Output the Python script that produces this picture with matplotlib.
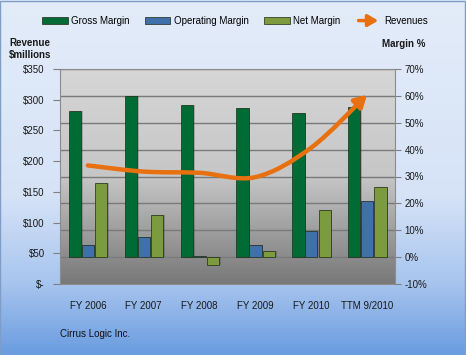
"""
Cirrus Logic margins (bars, right axis %) with revenue trend (smoothed arrow, left axis $M)
"""
import numpy as np
import matplotlib
matplotlib.use("Agg")
import matplotlib.pyplot as plt
from matplotlib.colors import LinearSegmentedColormap
from matplotlib.patches import Patch, FancyArrowPatch, Rectangle
from matplotlib.path import Path
from matplotlib.lines import Line2D
from matplotlib.legend_handler import HandlerBase

# data
periods = ["FY 2006", "FY 2007", "FY 2008", "FY 2009", "FY 2010", "TTM 9/2010"]
gross_margin = [54.2, 59.8, 56.5, 55.4, 53.6, 55.8]
operating_margin = [4.6, 7.5, 0.6, 4.6, 9.9, 20.8]
net_margin = [27.4, 15.5, -3.1, 2.2, 17.7, 26.0]
revenues = [193, 183, 181, 174, 222, 308]

money_ticks = [0, 50, 100, 150, 200, 250, 300, 350]
money_labels = ["$-", "$50", "$100", "$150", "$200", "$250", "$300", "$350"]
pct_ticks = [-10, 0, 10, 20, 30, 40, 50, 60, 70]

c_gross = "#006B35"
c_oper = "#3F70AA"
c_net = "#7C9B3E"
c_rev = "#E8700E"

plt.rcParams["font.family"] = ["Liberation Sans", "DejaVu Sans"]
plt.rcParams["font.size"] = 7

fig = plt.figure(figsize=(4.66, 3.55), dpi=100)

# figure background gradient
bg = fig.add_axes([0, 0, 1, 1], zorder=-10)
bg_cmap = LinearSegmentedColormap.from_list(
    "bg", [(0, "#6A9CE0"), (0.2, "#A7C4EE"), (0.45, "#D6E3F7"), (1, "#E3ECF9")])
bg.imshow(np.linspace(0, 1, 256).reshape(-1, 1), cmap=bg_cmap, aspect="auto",
          extent=[0, 1, 0, 1], origin="lower")
bg.set_axis_off()
fig.add_artist(Rectangle((0.001, 0.001), 0.997, 0.996, transform=fig.transFigure,
                         fill=False, edgecolor="#7F9DC6", lw=1))

# main axes: bars on the percent scale
ax = fig.add_axes([60 / 466, 1 - 284 / 355, 335 / 466, 215 / 355])
pa_cmap = LinearSegmentedColormap.from_list(
    "pa", [(0, "#787878"), (0.5, "#C6C6C6"), (1, "#D6D6D6")])
ax.imshow(np.linspace(0, 1, 256).reshape(-1, 1), cmap=pa_cmap, aspect="auto",
          extent=[0, 1, 0, 1], origin="lower", transform=ax.transAxes, zorder=0)

x = np.arange(len(periods))
w = 0.22
for off, vals, col in [(-w - 0.01, gross_margin, c_gross),
                       (0, operating_margin, c_oper),
                       (w + 0.02, net_margin, c_net)]:
    # soft shadow then the bar
    ax.bar(x + off + 0.03, vals, w, bottom=0, color="#000000", alpha=0.18,
           zorder=2)
    ax.bar(x + off, vals, w, color=col, edgecolor="#1E2A14", linewidth=0.5,
           zorder=3)

ax.set_xlim(-0.5, len(periods) - 0.5)
ax.set_ylim(-10, 70)
ax.set_xticks(x)
ax.set_xticklabels(periods)
ax.tick_params(axis="x", length=0, pad=12, colors="#1A1A1A")
for t in pct_ticks[1:]:
    ax.axhline(t, color="#7A7A7A", lw=1, zorder=1)
for s in ax.spines.values():
    s.set_color("#8C8C8C")
    s.set_linewidth(0.8)

# revenue axis on the left (twinx resets the main axis ticks, so set them after)
axr = ax.twinx()
axr.yaxis.tick_left()
axr.set_ylim(0, 350)
axr.set_yticks(money_ticks)
axr.set_yticklabels(money_labels)
axr.tick_params(axis="y", length=5, width=0.8, color="#7F7F7F", pad=6,
                labelcolor="#1A1A1A")
for s in axr.spines.values():
    s.set_visible(False)

ax.yaxis.tick_right()
ax.set_yticks(pct_ticks)
ax.set_yticklabels([f"{t}%" for t in pct_ticks])
ax.tick_params(axis="y", length=4, width=0.8, color="#7F7F7F", pad=3,
               labelcolor="#1A1A1A")

# smooth (Catmull-Rom style, like Excel) revenue line with arrow head
pts = np.column_stack([x, revenues]).astype(float)
ext = np.vstack([pts[0], pts, pts[-1]])
verts = [pts[0]]
codes = [Path.MOVETO]
for i in range(len(pts) - 1):
    p0, p1, p2, p3 = ext[i], ext[i + 1], ext[i + 2], ext[i + 3]
    verts += [p1 + (p2 - p0) / 6, p2 - (p3 - p1) / 6, p2]
    codes += [Path.CURVE4] * 3
arrow = FancyArrowPatch(path=Path(verts, codes),
                        arrowstyle="-|>,head_length=7,head_width=4",
                        color=c_rev, lw=3.2, capstyle="round",
                        transform=axr.transData, zorder=5)
axr.add_patch(arrow)


class ArrowHandler(HandlerBase):
    def create_artists(self, legend, orig_handle, xdescent, ydescent, width,
                       height, fontsize, trans):
        y = height / 2 - ydescent
        a = FancyArrowPatch((-xdescent, y), (width - xdescent, y),
                            arrowstyle="-|>,head_length=6,head_width=3.5",
                            color=c_rev, lw=2.5, mutation_scale=1,
                            transform=trans)
        return [a]


handles = [Patch(facecolor=c_gross, edgecolor="#1E2A14", lw=0.5),
           Patch(facecolor=c_oper, edgecolor="#1E2A14", lw=0.5),
           Patch(facecolor=c_net, edgecolor="#1E2A14", lw=0.5),
           Line2D([], [], color=c_rev)]
fig.legend(handles, ["Gross Margin", "Operating Margin", "Net Margin", "Revenues"],
           loc="center", bbox_to_anchor=(0.505, 1 - 21 / 355), ncol=4,
           frameon=False, handlelength=2.6, handleheight=0.6,
           handletextpad=0.35, columnspacing=1.6, fontsize=7,
           handler_map={Line2D: ArrowHandler()})

fig.text(30 / 466, 1 - 49 / 355, "Revenue\n$millions", ha="center", va="center",
         fontsize=7, fontweight="bold", color="#1A1A1A", linespacing=1.3)
fig.text(404 / 466, 1 - 44 / 355, "Margin %", ha="center", va="center",
         fontsize=7, fontweight="bold", color="#1A1A1A")
fig.text(60 / 466, 1 - 334 / 355, "Cirrus Logic Inc.", ha="left", va="center",
         fontsize=7, color="#111111")

fig.savefig("out.png", dpi=100)
